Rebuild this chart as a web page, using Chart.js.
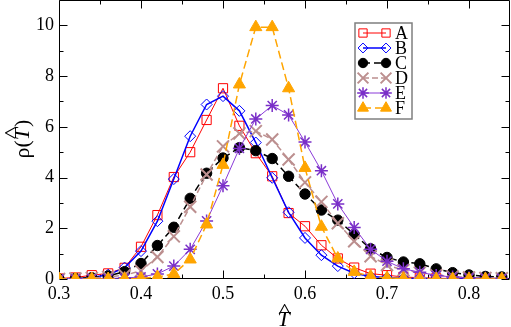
<!DOCTYPE html>
<html>
<head>
<meta charset="utf-8">
<script src="https://cdn.jsdelivr.net/npm/chart.js@4.4.0/dist/chart.umd.min.js"></script>
<style>
  body { margin: 0; background: #fff; }
  canvas { display: block; }
</style>
</head>
<body>
<canvas id="rho-chart" width="511" height="327"></canvas>
<script>
// reduced temperature values (x)
const temps = [0.30, 0.32, 0.34, 0.36, 0.38, 0.40, 0.42, 0.44, 0.46, 0.48, 0.50, 0.52, 0.54, 0.56,
  0.58, 0.60, 0.62, 0.64, 0.66, 0.68, 0.70, 0.72, 0.74, 0.76, 0.78, 0.80, 0.82, 0.84];

const seriesA = [0.02, 0.06, 0.15, 0.22, 0.44, 1.27, 2.52, 4.02, 5.0, 6.27, 7.52, 6.04, 4.96, 4.05,
  2.6, 2.08, 1.33, 0.81, 0.45, 0.21, 0.15, 0.08, 0.05, 0.03, 0.02, 0.01, 0.01, 0];
const seriesB = [0, 0.02, 0.06, 0.17, 0.45, 1.1, 2.28, 3.94, 5.63, 6.88, 7.21, 6.63, 5.38, 3.99,
  2.63, 1.62, 0.94, 0.51, 0.23, 0.1, 0.06, 0.03, 0.02, 0.01, 0, 0, 0, 0];
const seriesC = [0, 0.02, 0.05, 0.12, 0.29, 0.61, 1.32, 2.04, 3.18, 4.17, 4.77, 5.18, 5.06, 4.75,
  4.05, 3.35, 2.72, 2.32, 1.76, 1.19, 0.85, 0.67, 0.6, 0.4, 0.25, 0.16, 0.1, 0.08];
const seriesD = [0, 0.02, 0.04, 0.08, 0.15, 0.32, 0.87, 1.68, 2.85, 4.12, 5.23, 5.74, 5.83, 5.5,
  4.71, 3.81, 3.04, 2.2, 1.49, 0.9, 0.55, 0.35, 0.25, 0.15, 0.1, 0.06, 0.04, 0.03];
const seriesE = [0, 0, 0.01, 0.02, 0.04, 0.08, 0.2, 0.51, 1.17, 2.29, 3.68, 5.15, 6.31, 6.84,
  6.47, 5.4, 4.27, 2.96, 2.03, 1.17, 0.7, 0.4, 0.27, 0.14, 0.08, 0.05, 0.03, 0.02];
const seriesF = [0, 0, 0, 0, 0.01, 0.02, 0.08, 0.2, 0.77, 2.15, 4.5, 7.67, 9.93, 9.93,
  7.52, 4.38, 2.06, 0.81, 0.28, 0.1, 0.04, 0.02, 0.01, 0, 0, 0, 0, 0];

const labels = ['A', 'B', 'C', 'D', 'E', 'F'];

const xTicks = [0.3, 0.4, 0.5, 0.6, 0.7, 0.8];
const xMinorTicks = [0.35, 0.45, 0.55, 0.65, 0.75];
const yTicks = [0, 2, 4, 6, 8, 10];
const yMinorTicks = [1, 3, 5, 7, 9];

const FONT = '"Liberation Serif", "Times New Roman", serif';

function pts(vals) {
  return temps.map((t, i) => ({ x: t, y: vals[i] }));
}

const datasets = [
  { label: labels[0], data: pts(seriesA), borderColor: '#ff0000', borderWidth: 1,
    pointStyle: 'rect', pointRadius: 6.5, pointBorderWidth: 1,
    pointBorderColor: '#ff0000', pointBackgroundColor: 'rgba(0,0,0,0)', order: 6 },
  { label: labels[1], data: pts(seriesB), borderColor: '#0000ff', borderWidth: 1.5,
    pointStyle: 'rectRot', pointRadius: 5.5, pointBorderWidth: 1,
    pointBorderColor: '#0000ff', pointBackgroundColor: 'rgba(0,0,0,0)', order: 5 },
  { label: labels[2], data: pts(seriesC), borderColor: '#000000', borderWidth: 1.5, borderDash: [7, 4],
    pointStyle: 'circle', pointRadius: 5.2, pointBorderWidth: 1,
    pointBorderColor: '#000000', pointBackgroundColor: '#000000', order: 4 },
  { label: labels[3], data: pts(seriesD), borderColor: '#bc8f8f', borderWidth: 1.5, borderDash: [6, 3],
    pointStyle: 'crossRot', pointRadius: 8.5, pointBorderWidth: 2,
    pointBorderColor: '#bc8f8f', pointBackgroundColor: '#bc8f8f', order: 3 },
  { label: labels[4], data: pts(seriesE), borderColor: '#8a3ad8', borderWidth: 1,
    pointStyle: 'star', pointRadius: 6.5, pointBorderWidth: 1.5,
    pointBorderColor: '#7a2fc8', pointBackgroundColor: '#7a2fc8', order: 2 },
  { label: labels[5], data: pts(seriesF), borderColor: '#ffa500', borderWidth: 1.5, borderDash: [8, 4],
    pointStyle: 'triangle', pointRadius: 7, pointBorderWidth: 1,
    pointBorderColor: '#ffa500', pointBackgroundColor: '#ffa500', order: 1 },
];

// frame with inward ticks on all four sides
const framePlugin = {
  id: 'frame',
  beforeDatasetsDraw(chart) {
    const ctx = chart.ctx;
    const a = chart.chartArea;
    const xs = chart.scales.x, ys = chart.scales.y;
    const L = Math.round(a.left) + 0.5, R = Math.round(a.right) - 0.5;
    const T = Math.round(a.top) + 0.5, B = Math.round(a.bottom) - 0.5;
    ctx.save();
    ctx.strokeStyle = '#000';
    ctx.lineWidth = 1;
    ctx.beginPath();
    ctx.rect(L, T, R - L, B - T);
    const xt = (v, len) => {
      const p = Math.round(xs.getPixelForValue(v)) + 0.5;
      ctx.moveTo(p, B); ctx.lineTo(p, B - len);
      ctx.moveTo(p, T); ctx.lineTo(p, T + len);
    };
    const yt = (v, len) => {
      const p = Math.round(ys.getPixelForValue(v)) + 0.5;
      ctx.moveTo(L, p); ctx.lineTo(L + len, p);
      ctx.moveTo(R, p); ctx.lineTo(R - len, p);
    };
    xTicks.forEach(v => xt(v, 8));
    xMinorTicks.forEach(v => xt(v, 4));
    yTicks.forEach(v => yt(v, 8));
    yMinorTicks.forEach(v => yt(v, 4));
    ctx.stroke();
    ctx.restore();
  },
  afterDraw(chart) {
    const ctx = chart.ctx;
    const a = chart.chartArea;
    ctx.save();
    ctx.fillStyle = '#000';
    ctx.textBaseline = 'alphabetic';

    // x title: T with hat
    const cx = (a.left + a.right) / 2 - 1;
    ctx.textAlign = 'center';
    ctx.font = 'italic 22px ' + FONT;
    ctx.fillText('T', cx, 326);
    ctx.save();
    ctx.translate(cx + 1, 318);
    ctx.scale(1.35, 1);
    ctx.font = '20px ' + FONT;
    ctx.fillText('^', 0, 0);
    ctx.restore();

    // y title: rho(T hat)
    ctx.save();
    ctx.translate(29, (a.top + a.bottom) / 2);
    ctx.rotate(-Math.PI / 2);
    ctx.textAlign = 'left';
    const normal = '22px ' + FONT, italic = 'italic 22px ' + FONT;
    ctx.font = normal;
    const w1 = ctx.measureText('ρ(').width;
    const w3 = ctx.measureText(')').width;
    ctx.font = italic;
    const w2 = ctx.measureText('T').width;
    let x0 = -(w1 + w2 + w3) / 2;
    ctx.font = normal;
    ctx.fillText('ρ(', x0, 0);
    ctx.font = italic;
    ctx.fillText('T', x0 + w1, 0);
    ctx.font = normal;
    ctx.fillText(')', x0 + w1 + w2 + 1, 0);
    ctx.save();
    ctx.translate(x0 + w1 + w2 / 2 + 1, -10);
    ctx.scale(1.35, 1);
    ctx.textAlign = 'center';
    ctx.font = '20px ' + FONT;
    ctx.fillText('^', 0, 0);
    ctx.restore();
    ctx.restore();

    // legend
    const bx = 355, by = 23, bw = 57, bh = 96;
    ctx.fillStyle = '#fff';
    ctx.fillRect(bx, by, bw, bh);
    ctx.strokeStyle = '#7f7f7f';
    ctx.lineWidth = 1.5;
    ctx.strokeRect(bx, by, bw, bh);
    chart.data.datasets.forEach((ds, i) => {
      const yy = 33 + i * 15;
      const x1 = 363, x2 = 386;
      ctx.save();
      ctx.strokeStyle = ds.borderColor;
      ctx.lineWidth = ds.borderWidth;
      ctx.setLineDash(ds.borderDash || []);
      ctx.beginPath();
      ctx.moveTo(x1, yy); ctx.lineTo(x2, yy);
      ctx.stroke();
      ctx.setLineDash([]);
      ctx.strokeStyle = ds.pointBorderColor;
      ctx.fillStyle = ds.pointBackgroundColor;
      ctx.lineWidth = ds.pointBorderWidth;
      [x1, x2].forEach(px => {
        Chart.helpers.drawPoint(ctx, {
          pointStyle: ds.pointStyle, radius: ds.pointRadius * 0.9,
          rotation: 0, borderWidth: ds.pointBorderWidth
        }, px, yy);
      });
      ctx.restore();
      ctx.fillStyle = '#000';
      ctx.textAlign = 'left';
      ctx.font = '18px ' + FONT;
      ctx.fillText(ds.label, 395, yy + 6);
    });
    ctx.restore();
  }
};

new Chart(document.getElementById('rho-chart'), {
  type: 'line',
  data: { datasets: datasets },
  plugins: [framePlugin],
  options: {
    responsive: false,
    animation: false,
    devicePixelRatio: 1,
    layout: { autoPadding: false, padding: { top: 0, right: 1, left: 0, bottom: 0 } },
    plugins: { legend: { display: false }, tooltip: { enabled: false } },
    elements: { line: { tension: 0, fill: false } },
    scales: {
      x: {
        type: 'linear', min: 0.3, max: 0.85,
        grid: { display: false, drawTicks: false },
        border: { display: false },
        ticks: { padding: 4, color: '#000', font: { family: FONT, size: 18 },
          callback: v => v.toFixed(1) },
        afterBuildTicks: s => { s.ticks = xTicks.map(v => ({ value: v })); },
        afterFit: s => { s.height = 48; s.paddingLeft = 0; s.paddingRight = 0; }
      },
      y: {
        type: 'linear', min: 0, max: 11,
        grid: { display: false, drawTicks: false },
        border: { display: false },
        ticks: { padding: 5, color: '#000', font: { family: FONT, size: 18 },
          callback: v => String(v) },
        afterBuildTicks: s => { s.ticks = yTicks.map(v => ({ value: v })); },
        afterFit: s => { s.width = 59; s.paddingTop = 0; s.paddingBottom = 0; }
      }
    }
  }
});
</script>
</body>
</html>
